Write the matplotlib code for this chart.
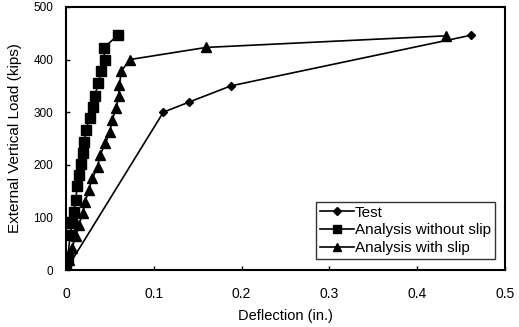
import matplotlib
matplotlib.use("Agg")
import matplotlib.pyplot as plt

plt.rcParams['font.family'] = ['Liberation Sans', 'DejaVu Sans']

# Test
test_x = [0, 0.111, 0.140, 0.188, 0.461]
test_y = [0, 300, 319, 350, 446]

# Analysis without slip
noslip_x = [0, 0.002, 0.005, 0.007, 0.009, 0.011, 0.013, 0.015, 0.017, 0.019,
            0.021, 0.023, 0.027, 0.0305, 0.033, 0.037, 0.040, 0.044, 0.043, 0.059]
noslip_y = [0, 25, 67, 89, 111, 133, 159, 181, 202, 222,
            244, 267, 289, 310, 331, 356, 378, 400, 422, 446]

# Analysis with slip
slip_x = [0, 0.004, 0.007, 0.011, 0.015, 0.019, 0.022, 0.026, 0.030, 0.036,
          0.039, 0.045, 0.050, 0.053, 0.057, 0.060, 0.061, 0.063, 0.073, 0.160, 0.433]
slip_y = [0, 20, 42, 64, 86, 108, 130, 152, 174, 196,
          219, 241, 263, 286, 308, 330, 352, 378, 400, 423, 445]

fig = plt.figure(figsize=(5.19, 3.27), dpi=100)
ax = fig.add_axes([0.127, 0.174, 0.846, 0.805])

ax.plot(test_x, test_y, color='black', lw=1.2, marker='D', ms=4.5, label='Test')
ax.plot(noslip_x, noslip_y, color='black', lw=1.2, marker='s', ms=6.5, label='Analysis without slip')
ax.plot(slip_x, slip_y, color='black', lw=1.2, marker='^', ms=6.5, label='Analysis with slip')

ax.set_xlim(0, 0.5)
ax.set_ylim(0, 500)
ax.set_xticks([0, 0.1, 0.2, 0.3, 0.4, 0.5])
ax.set_xticklabels(['0', '0.1', '0.2', '0.3', '0.4', '0.5'])
ax.set_yticks([0, 100, 200, 300, 400, 500])
ax.tick_params(direction='in', length=3, width=1)
ax.tick_params(axis='x', pad=12, labelsize=10)
ax.tick_params(axis='y', pad=9, labelsize=8.5)
for s in ax.spines.values():
    s.set_linewidth(1.5)

ax.set_xlabel('Deflection (in.)', fontsize=10.5, labelpad=6)
ax.set_ylabel('External Vertical Load (kips)', fontsize=11, labelpad=8)

leg = ax.legend(loc='lower right', bbox_to_anchor=(0.977, 0.042), fontsize=11,
                frameon=True, fancybox=False, edgecolor='black', handlelength=2.2,
                labelspacing=0.25, borderpad=0.25, handletextpad=0.1, borderaxespad=0,
                markerscale=0.8)
leg.get_frame().set_linewidth(1)

fig.savefig('out.png', dpi=100)
